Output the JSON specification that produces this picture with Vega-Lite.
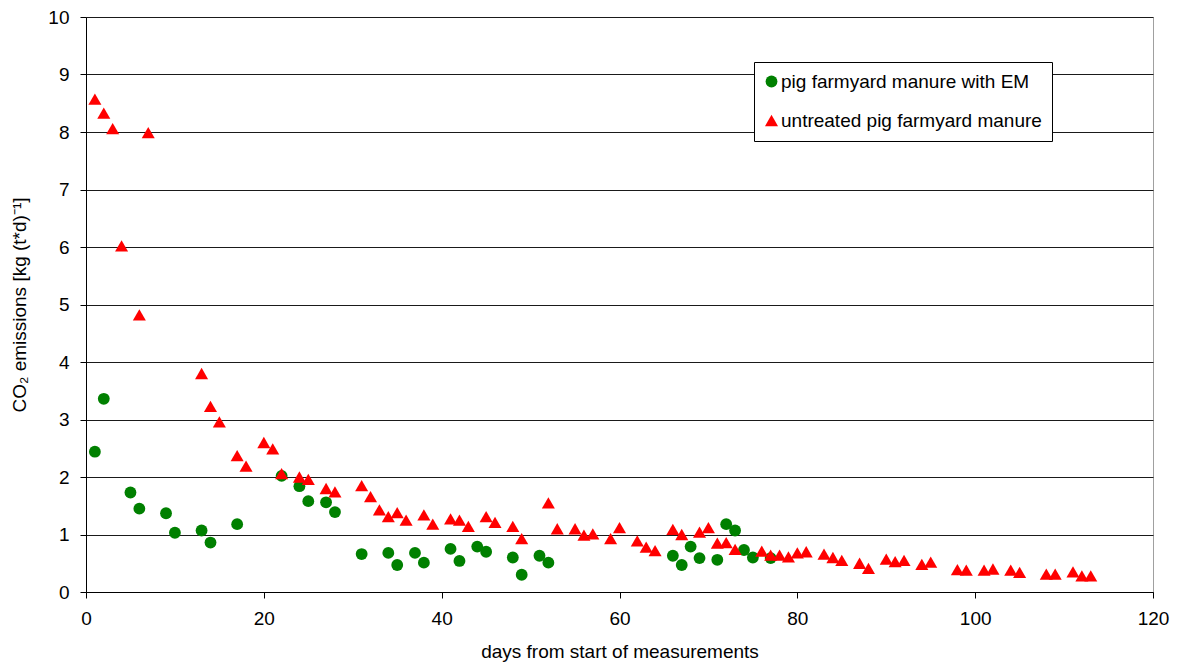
{
  "$schema": "https://vega.github.io/schema/vega-lite/v6.json",
  "width": 1067,
  "height": 575,
  "autosize": {"type": "none"},
  "padding": {"left": 86, "top": 17, "right": 25, "bottom": 71},
  "background": "white",
  "config": {
    "font": "Liberation Sans",
    "view": {"stroke": "#a0a0a0", "strokeWidth": 1},
    "axis": {
      "labelFont": "Liberation Sans",
      "titleFont": "Liberation Sans",
      "labelFontSize": 19,
      "titleFontSize": 19,
      "labelColor": "#000",
      "titleColor": "#000",
      "titleFontWeight": "normal",
      "domainColor": "#000",
      "tickColor": "#000",
      "tickSize": 6
    }
  },
  "data": {
    "values": [
      {"day": 1, "co2": 2.44, "series": "pig farmyard manure with EM"},
      {"day": 2, "co2": 3.36, "series": "pig farmyard manure with EM"},
      {"day": 5, "co2": 1.73, "series": "pig farmyard manure with EM"},
      {"day": 6, "co2": 1.45, "series": "pig farmyard manure with EM"},
      {"day": 9, "co2": 1.37, "series": "pig farmyard manure with EM"},
      {"day": 10, "co2": 1.03, "series": "pig farmyard manure with EM"},
      {"day": 13, "co2": 1.07, "series": "pig farmyard manure with EM"},
      {"day": 14, "co2": 0.86, "series": "pig farmyard manure with EM"},
      {"day": 17, "co2": 1.18, "series": "pig farmyard manure with EM"},
      {"day": 22, "co2": 2.02, "series": "pig farmyard manure with EM"},
      {"day": 24, "co2": 1.84, "series": "pig farmyard manure with EM"},
      {"day": 25, "co2": 1.58, "series": "pig farmyard manure with EM"},
      {"day": 27, "co2": 1.56, "series": "pig farmyard manure with EM"},
      {"day": 28, "co2": 1.39, "series": "pig farmyard manure with EM"},
      {"day": 31, "co2": 0.66, "series": "pig farmyard manure with EM"},
      {"day": 34, "co2": 0.68, "series": "pig farmyard manure with EM"},
      {"day": 35, "co2": 0.47, "series": "pig farmyard manure with EM"},
      {"day": 37, "co2": 0.68, "series": "pig farmyard manure with EM"},
      {"day": 38, "co2": 0.51, "series": "pig farmyard manure with EM"},
      {"day": 41, "co2": 0.75, "series": "pig farmyard manure with EM"},
      {"day": 42, "co2": 0.54, "series": "pig farmyard manure with EM"},
      {"day": 44, "co2": 0.79, "series": "pig farmyard manure with EM"},
      {"day": 45, "co2": 0.70, "series": "pig farmyard manure with EM"},
      {"day": 48, "co2": 0.60, "series": "pig farmyard manure with EM"},
      {"day": 49, "co2": 0.30, "series": "pig farmyard manure with EM"},
      {"day": 51, "co2": 0.63, "series": "pig farmyard manure with EM"},
      {"day": 52, "co2": 0.51, "series": "pig farmyard manure with EM"},
      {"day": 66, "co2": 0.63, "series": "pig farmyard manure with EM"},
      {"day": 67, "co2": 0.47, "series": "pig farmyard manure with EM"},
      {"day": 68, "co2": 0.79, "series": "pig farmyard manure with EM"},
      {"day": 69, "co2": 0.59, "series": "pig farmyard manure with EM"},
      {"day": 71, "co2": 0.56, "series": "pig farmyard manure with EM"},
      {"day": 72, "co2": 1.18, "series": "pig farmyard manure with EM"},
      {"day": 73, "co2": 1.07, "series": "pig farmyard manure with EM"},
      {"day": 74, "co2": 0.73, "series": "pig farmyard manure with EM"},
      {"day": 75, "co2": 0.60, "series": "pig farmyard manure with EM"},
      {"day": 77, "co2": 0.59, "series": "pig farmyard manure with EM"},
      {"day": 1, "co2": 8.57, "series": "untreated pig farmyard manure"},
      {"day": 2, "co2": 8.33, "series": "untreated pig farmyard manure"},
      {"day": 3, "co2": 8.06, "series": "untreated pig farmyard manure"},
      {"day": 4, "co2": 6.02, "series": "untreated pig farmyard manure"},
      {"day": 6, "co2": 4.82, "series": "untreated pig farmyard manure"},
      {"day": 7, "co2": 7.99, "series": "untreated pig farmyard manure"},
      {"day": 13, "co2": 3.80, "series": "untreated pig farmyard manure"},
      {"day": 14, "co2": 3.23, "series": "untreated pig farmyard manure"},
      {"day": 15, "co2": 2.96, "series": "untreated pig farmyard manure"},
      {"day": 17, "co2": 2.37, "series": "untreated pig farmyard manure"},
      {"day": 18, "co2": 2.19, "series": "untreated pig farmyard manure"},
      {"day": 20, "co2": 2.60, "series": "untreated pig farmyard manure"},
      {"day": 21, "co2": 2.49, "series": "untreated pig farmyard manure"},
      {"day": 22, "co2": 2.06, "series": "untreated pig farmyard manure"},
      {"day": 24, "co2": 2.00, "series": "untreated pig farmyard manure"},
      {"day": 25, "co2": 1.96, "series": "untreated pig farmyard manure"},
      {"day": 27, "co2": 1.80, "series": "untreated pig farmyard manure"},
      {"day": 28, "co2": 1.74, "series": "untreated pig farmyard manure"},
      {"day": 31, "co2": 1.85, "series": "untreated pig farmyard manure"},
      {"day": 32, "co2": 1.66, "series": "untreated pig farmyard manure"},
      {"day": 33, "co2": 1.43, "series": "untreated pig farmyard manure"},
      {"day": 34, "co2": 1.31, "series": "untreated pig farmyard manure"},
      {"day": 35, "co2": 1.38, "series": "untreated pig farmyard manure"},
      {"day": 36, "co2": 1.25, "series": "untreated pig farmyard manure"},
      {"day": 38, "co2": 1.34, "series": "untreated pig farmyard manure"},
      {"day": 39, "co2": 1.18, "series": "untreated pig farmyard manure"},
      {"day": 41, "co2": 1.27, "series": "untreated pig farmyard manure"},
      {"day": 42, "co2": 1.25, "series": "untreated pig farmyard manure"},
      {"day": 43, "co2": 1.14, "series": "untreated pig farmyard manure"},
      {"day": 45, "co2": 1.31, "series": "untreated pig farmyard manure"},
      {"day": 46, "co2": 1.21, "series": "untreated pig farmyard manure"},
      {"day": 48, "co2": 1.14, "series": "untreated pig farmyard manure"},
      {"day": 49, "co2": 0.93, "series": "untreated pig farmyard manure"},
      {"day": 52, "co2": 1.55, "series": "untreated pig farmyard manure"},
      {"day": 53, "co2": 1.10, "series": "untreated pig farmyard manure"},
      {"day": 55, "co2": 1.10, "series": "untreated pig farmyard manure"},
      {"day": 56, "co2": 0.99, "series": "untreated pig farmyard manure"},
      {"day": 57, "co2": 1.01, "series": "untreated pig farmyard manure"},
      {"day": 59, "co2": 0.93, "series": "untreated pig farmyard manure"},
      {"day": 60, "co2": 1.12, "series": "untreated pig farmyard manure"},
      {"day": 62, "co2": 0.89, "series": "untreated pig farmyard manure"},
      {"day": 63, "co2": 0.78, "series": "untreated pig farmyard manure"},
      {"day": 64, "co2": 0.72, "series": "untreated pig farmyard manure"},
      {"day": 66, "co2": 1.09, "series": "untreated pig farmyard manure"},
      {"day": 67, "co2": 1.00, "series": "untreated pig farmyard manure"},
      {"day": 69, "co2": 1.04, "series": "untreated pig farmyard manure"},
      {"day": 70, "co2": 1.12, "series": "untreated pig farmyard manure"},
      {"day": 71, "co2": 0.85, "series": "untreated pig farmyard manure"},
      {"day": 72, "co2": 0.86, "series": "untreated pig farmyard manure"},
      {"day": 73, "co2": 0.74, "series": "untreated pig farmyard manure"},
      {"day": 76, "co2": 0.71, "series": "untreated pig farmyard manure"},
      {"day": 77, "co2": 0.64, "series": "untreated pig farmyard manure"},
      {"day": 78, "co2": 0.64, "series": "untreated pig farmyard manure"},
      {"day": 79, "co2": 0.61, "series": "untreated pig farmyard manure"},
      {"day": 80, "co2": 0.68, "series": "untreated pig farmyard manure"},
      {"day": 81, "co2": 0.70, "series": "untreated pig farmyard manure"},
      {"day": 83, "co2": 0.66, "series": "untreated pig farmyard manure"},
      {"day": 84, "co2": 0.60, "series": "untreated pig farmyard manure"},
      {"day": 85, "co2": 0.55, "series": "untreated pig farmyard manure"},
      {"day": 87, "co2": 0.50, "series": "untreated pig farmyard manure"},
      {"day": 88, "co2": 0.41, "series": "untreated pig farmyard manure"},
      {"day": 90, "co2": 0.57, "series": "untreated pig farmyard manure"},
      {"day": 91, "co2": 0.53, "series": "untreated pig farmyard manure"},
      {"day": 92, "co2": 0.55, "series": "untreated pig farmyard manure"},
      {"day": 94, "co2": 0.48, "series": "untreated pig farmyard manure"},
      {"day": 95, "co2": 0.52, "series": "untreated pig farmyard manure"},
      {"day": 98, "co2": 0.39, "series": "untreated pig farmyard manure"},
      {"day": 99, "co2": 0.38, "series": "untreated pig farmyard manure"},
      {"day": 101, "co2": 0.38, "series": "untreated pig farmyard manure"},
      {"day": 102, "co2": 0.40, "series": "untreated pig farmyard manure"},
      {"day": 104, "co2": 0.38, "series": "untreated pig farmyard manure"},
      {"day": 105, "co2": 0.34, "series": "untreated pig farmyard manure"},
      {"day": 108, "co2": 0.31, "series": "untreated pig farmyard manure"},
      {"day": 109, "co2": 0.31, "series": "untreated pig farmyard manure"},
      {"day": 111, "co2": 0.35, "series": "untreated pig farmyard manure"},
      {"day": 112, "co2": 0.28, "series": "untreated pig farmyard manure"},
      {"day": 113, "co2": 0.28, "series": "untreated pig farmyard manure"}
    ]
  },
  "mark": {"type": "point", "filled": true, "opacity": 1, "strokeWidth": 0},
  "encoding": {
    "x": {
      "field": "day",
      "type": "quantitative",
      "scale": {"domain": [0, 120], "nice": false, "zero": true},
      "axis": {
        "title": "days from start of measurements",
        "values": [0, 20, 40, 60, 80, 100, 120],
        "grid": false,
        "labelPadding": 11,
        "titlePadding": 14,
        "labelFlush": false,
        "labelOverlap": false
      }
    },
    "y": {
      "field": "co2",
      "type": "quantitative",
      "scale": {"domain": [0, 10], "nice": false},
      "axis": {
        "title": "CO₂ emissions [kg (t*d)⁻¹]",
        "values": [0, 1, 2, 3, 4, 5, 6, 7, 8, 9, 10],
        "grid": true,
        "gridColor": "#1a1a1a",
        "gridWidth": 1,
        "labelPadding": 11,
        "titlePadding": 18,
        "labelFlush": false,
        "labelOverlap": false
      }
    },
    "color": {
      "field": "series",
      "type": "nominal",
      "scale": {
        "domain": ["pig farmyard manure with EM", "untreated pig farmyard manure"],
        "range": ["#008000", "#ff0000"]
      },
      "legend": {
        "title": null,
        "orient": "none",
        "legendX": 668,
        "legendY": 45,
        "padding": 10,
        "rowPadding": 19,
        "labelOffset": 0,
        "symbolOffset": -2,
        "labelFont": "Liberation Sans",
        "labelFontSize": 19,
        "labelColor": "#000",
        "labelLimit": 400,
        "strokeColor": "#000",
        "fillColor": "#fff",
        "symbolSize": 150,
        "symbolStrokeWidth": 0
      }
    },
    "shape": {
      "field": "series",
      "type": "nominal",
      "scale": {
        "domain": ["pig farmyard manure with EM", "untreated pig farmyard manure"],
        "range": ["circle", "triangle-up"]
      }
    },
    "size": {
      "field": "series",
      "type": "nominal",
      "scale": {
        "domain": ["pig farmyard manure with EM", "untreated pig farmyard manure"],
        "range": [140, 170]
      }
    }
  }
}
